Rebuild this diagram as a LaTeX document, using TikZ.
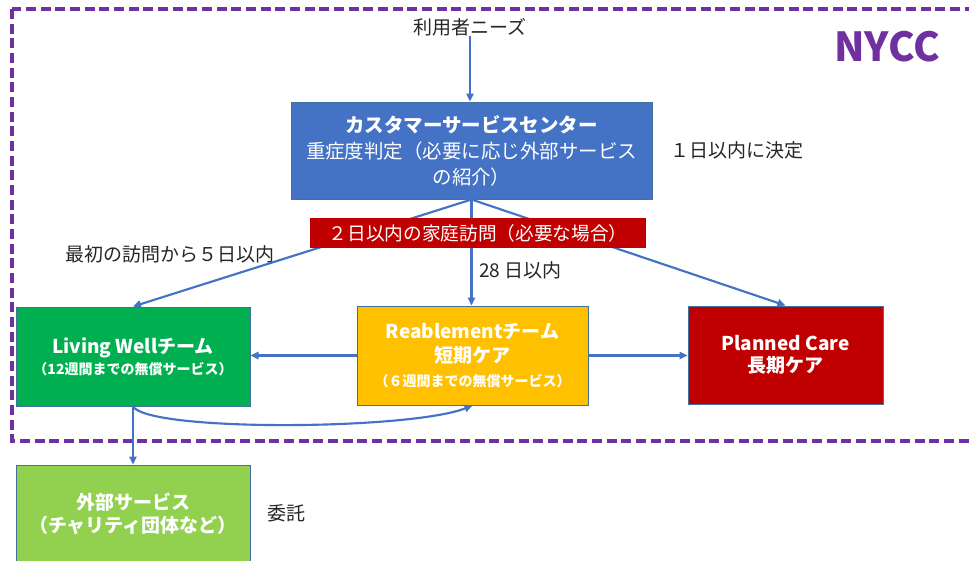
\documentclass[tikz,border=0pt]{standalone}
\usepackage{fontspec}
\setmainfont{Noto Sans CJK JP}
\usetikzlibrary{arrows.meta}
\definecolor{cscblue}{HTML}{4472C4}
\definecolor{boxborder}{HTML}{41719C}
\definecolor{darkred}{HTML}{C00000}
\definecolor{lwgreen}{HTML}{00B050}
\definecolor{reyellow}{HTML}{FFC000}
\definecolor{extgreen}{HTML}{92D050}
\definecolor{nyccpurple}{HTML}{7030A0}
\definecolor{linkblue}{HTML}{4472C4}
\definecolor{textgray}{HTML}{262626}
\begin{document}
\begin{tikzpicture}[x=0.75pt,y=-0.75pt,
  box/.style={draw=boxborder, line width=0.75pt, text=white, align=center, inner sep=0pt},
  conn/.style={draw=linkblue, line width=1.6pt, -{Triangle[length=6pt,width=5.5pt]}},
  lbl/.style={text=textgray, font=\fontsize{14.25}{18}\selectfont, inner sep=0pt},
  frame/.style={draw=nyccpurple, line width=2.6pt, dash pattern=on 7.5pt off 3.5pt}
]
\useasboundingbox (0,0) rectangle (969,560);
\fill[white] (0,0) rectangle (969,560);

% NYCC dashed frame
\draw[frame] (12,9) rectangle (1000,441);
\node[text=nyccpurple, font=\fontsize{30}{34}\selectfont\bfseries, inner sep=0pt] (nycc) at (887,47) {NYCC};

% labels
\node[lbl] (needs) at (470,27) {利用者ニーズ};
\node[lbl, anchor=west] (decide) at (670,150) {１日以内に決定};
\node[lbl, anchor=east] (five) at (275,254) {最初の訪問から５日以内};
\node[lbl, anchor=west] (d28) at (479,270) {28 日以内};
\node[lbl, anchor=west] (itaku) at (267,513) {委託};

% boxes
\node[box, fill=cscblue, minimum width=270.75pt, minimum height=72.75pt,
      font=\fontsize{14.6}{19.5}\selectfont] (csc) at (471.5,150.5)
  {{\bfseries カスタマーサービスセンター}\\重症度判定（必要に応じ外部サービス\\の紹介）};

\node[box, fill=lwgreen, minimum width=175.5pt, minimum height=74.25pt,
      font=\fontsize{14.25}{15.75}\selectfont\bfseries] (lw) at (133,356.5)
  {Living Wellチーム\\{\fontsize{10.5}{15.75}\selectfont （12週間までの無償サービス）}};

\node[box, fill=reyellow, minimum width=173.25pt, minimum height=74.25pt,
      font=\fontsize{14.25}{18}\selectfont\bfseries] (re) at (472.5,355.5)
  {Reablementチーム\\短期ケア\\{\fontsize{10.5}{18}\selectfont （６週間までの無償サービス）}};

\node[box, fill=darkred, minimum width=146.25pt, minimum height=73.5pt,
      font=\fontsize{14.25}{16.5}\selectfont\bfseries] (pc) at (785.5,355)
  {Planned Care\\長期ケア};

\node[box, fill=extgreen, minimum width=175.5pt, minimum height=72.75pt,
      font=\fontsize{14.25}{17}\selectfont\bfseries] (ext) at (133,513.5)
  {外部サービス\\（チャリティ団体など）};

% connectors
\draw[conn] (needs.south) -- (needs.south |- csc.north);
\draw[conn] (csc.south) -- (lw.north);
\draw[conn] (csc.south) -- (csc.south |- re.north);
\draw[conn] (csc.south) -- (pc.north);
\draw[conn] (re.west) -- (re.west -| lw.east);
\draw[conn] (re.east) -- (re.east -| pc.west);
\draw[conn] (lw.south) .. controls (150,432) and (410,430) .. (re.south);
\draw[conn] (lw.south) -- (ext.north);

% home visit box on top of the lines
\node[fill=darkred, text=white, inner sep=0pt, minimum width=252pt, minimum height=22.5pt,
      font=\fontsize{14}{16}\selectfont] (visit) at (478,233)
  {２日以内の家庭訪問（必要な場合）};
\end{tikzpicture}
\end{document}
